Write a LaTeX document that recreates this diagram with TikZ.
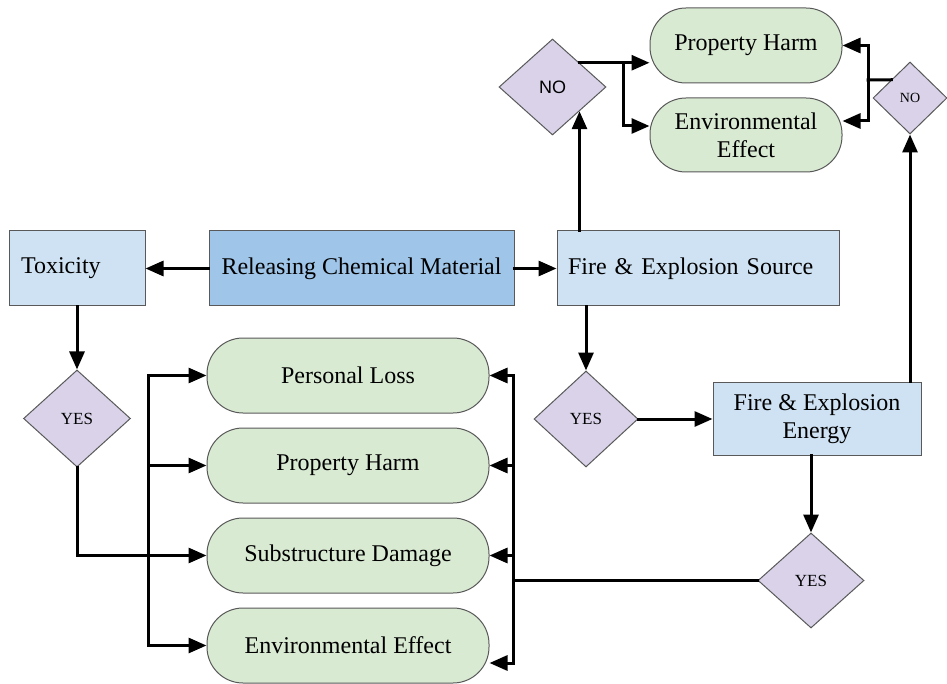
\documentclass[tikz,border=0pt]{standalone}
\usepackage{fontspec}
\setmainfont{Liberation Serif}
\newfontfamily\sansf{Liberation Sans}
\usetikzlibrary{shapes.geometric,arrows.meta,calc}
\definecolor{lblue}{HTML}{CFE2F3}
\definecolor{dblue}{HTML}{9FC5E8}
\definecolor{lgreen}{HTML}{D9EAD3}
\definecolor{lpurple}{HTML}{D9D2E9}
\definecolor{bordergray}{HTML}{595959}
\begin{document}
\begin{tikzpicture}[x=1pt,y=-1pt,
  box/.style={draw=bordergray, line width=1pt, fill=lblue, minimum height=75pt, inner sep=0pt, font=\fontsize{24}{28}\selectfont},
  gbox/.style={draw=bordergray, line width=1pt, fill=lgreen, rounded corners=36pt, minimum height=75pt, inner sep=0pt, align=center, font=\fontsize{24}{28}\selectfont},
  dia/.style={diamond, draw=bordergray, line width=1pt, fill=lpurple, inner sep=0pt, font=\fontsize{17}{20}\selectfont},
  arr/.style={line width=3pt, line cap=rect, line join=miter, -{Triangle[length=18pt,width=15pt]}},
  ln/.style={line width=3pt, line cap=rect, line join=miter},
]
\useasboundingbox (0,0) rectangle (947,684);

% blue boxes
\node[box, minimum width=136pt, text width=112pt, align=left] (tox) at (77,268.5) {Toxicity};
\node[box, fill=dblue, minimum width=305pt] (rel) at (361.5,268.5) {Releasing Chemical Material};
\node[box, minimum width=282pt, text width=260pt, align=left] (fes) at (698,268.5) {Fire \& Explosion Source};
\node[box, minimum width=208pt, minimum height=73pt, align=center] (fee) at (817,418.5) {Fire \& Explosion\\Energy};

% diamonds
\node[dia, minimum width=107pt, minimum height=97pt] (lyes) at (77,418.5) {YES};
\node[dia, minimum width=104pt, minimum height=96pt] (myes) at (586,419) {YES};
\node[dia, minimum width=106pt, minimum height=95pt] (byes) at (811,580.5) {YES};
\node[dia, minimum width=107pt, minimum height=96pt, font=\sansf\fontsize{18}{20}\selectfont] (tno) at (552.5,87) {NO};
\node[dia, minimum width=74pt, minimum height=72pt, font=\fontsize{14}{16}\selectfont] (rno) at (910,98) {NO};

% green boxes
\node[gbox, minimum width=282pt] (pl) at (348,375.5) {Personal Loss};
\node[gbox, minimum width=282pt] (ph) at (348,465.5) {Property Harm};
\node[gbox, minimum width=282pt] (sd) at (348,555.5) {Substructure Damage};
\node[gbox, minimum width=282pt] (ee) at (348,645.5) {Environmental Effect};
\node[gbox, minimum width=192pt] (tph) at (746,45.5) {Property Harm};
\node[gbox, minimum width=192pt, minimum height=74pt] (tee) at (746,135) {Environmental\\Effect};

% connectors from release
\draw[arr] (rel) -- (tox);
\draw[arr] (rel) -- (fes);

% toxicity branch
\draw[arr] (tox) -- (lyes);
\draw[arr] (lyes.south) |- (sd.west);
\coordinate (lbt) at (148,375.5);
\draw[ln] (lbt) -- (lbt |- ee.west);
\draw[arr] (lbt) -- (pl.west);
\draw[arr] (lbt |- ph.west) -- (ph.west);
\draw[arr] (lbt |- ee.west) -- (ee.west);

% right bus
\coordinate (rbt) at (513,375.5);
\coordinate (rbb) at (513,663);
\draw[ln] (rbt) -- (rbb);
\draw[ln] (byes.west) -- (byes.west -| rbt);
\draw[arr] (rbt) -- (pl.east);
\draw[arr] (rbt |- ph.east) -- (ph.east);
\draw[arr] (rbt |- sd.east) -- (sd.east);
\draw[arr] (rbb) -- (rbb -| ee.east);

% fire & explosion chain
\draw[arr] (myes.north |- fes.south) -- (myes.north);
\draw[arr] (myes.east) -- (myes.east -| fee.west);
\draw[arr] (byes.north |- fee.south) -- (byes.north);
\draw[arr] (rno.south |- fee.north) -- (rno.south);
\draw[arr] (tno.south east |- fes.north) -- (tno.south east);

% top NO left
\coordinate (tj) at (623,63);
\draw[arr] (tno.north east) -- (tno.north east -| tph.west);
\draw[arr] (tj) |- ([yshift=9pt]tee.west);

% top NO right
\coordinate (rj) at (868,80);
\draw[ln] (rno.north west) -- (rj);
\draw[arr] (rj) |- (tph.east);
\draw[arr] (rj) |- ([yshift=14pt]tee.east);
\end{tikzpicture}
\end{document}
